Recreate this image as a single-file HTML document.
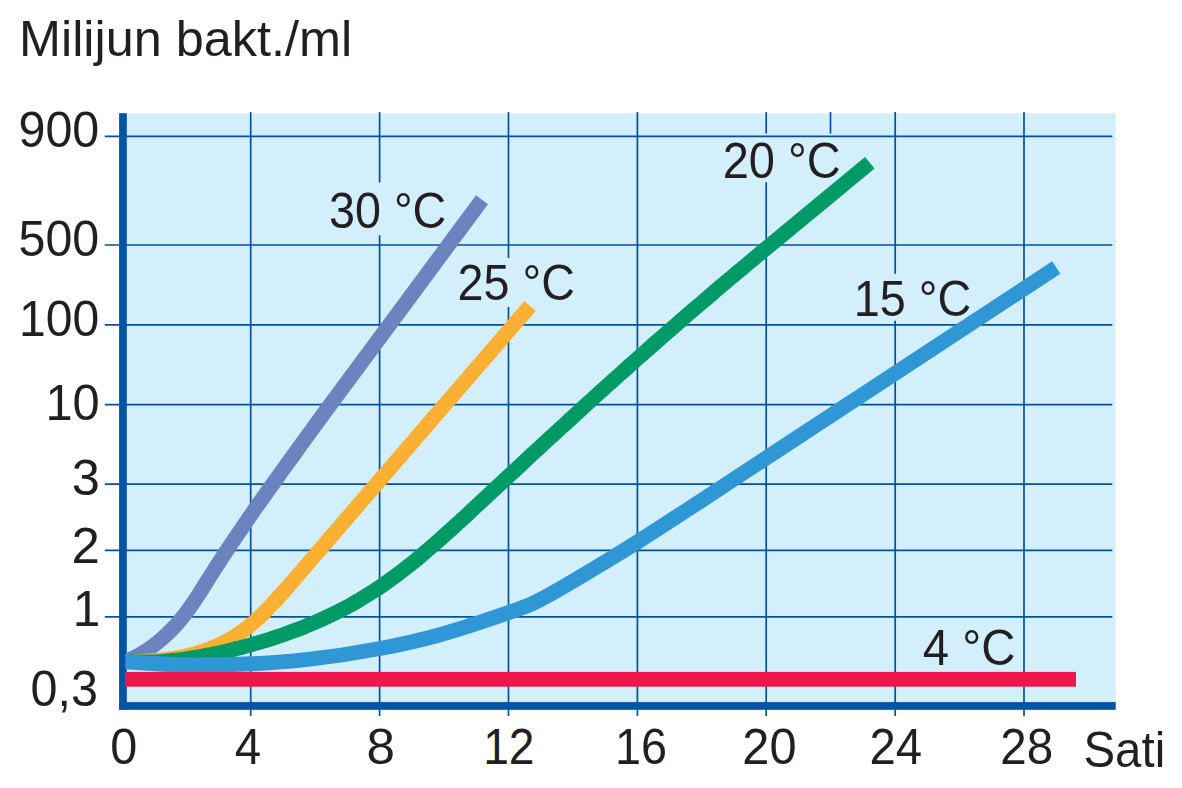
<!DOCTYPE html>
<html lang="hr"><head><meta charset="utf-8"><title>Milijun bakt./ml</title>
<style>html,body{margin:0;padding:0;background:#fff}body{width:1182px;height:788px;overflow:hidden}svg{display:block}text{font-family:"Liberation Sans",Arial,sans-serif;fill:#231f20}</style></head><body>
<svg width="1182" height="788" viewBox="0 0 1182 788">
<rect width="1182" height="788" fill="#fff"/>
<rect x="123" y="113.3" width="992.7" height="592" fill="#d4effc"/>
<g stroke="#00529f" stroke-width="1.7" fill="none">
<path d="M250.7,112 V716"/>
<path d="M379.6,112 V182.5 M379.6,235.3 V716"/>
<path d="M508.5,112 V257.9 M508.5,306.9 V716"/>
<path d="M637.4,112 V716"/>
<path d="M766.2,112 V133.6 M766.2,182.2 V716"/>
<path d="M895.2,112 V273.7 M895.2,320.8 V716"/>
<path d="M1024.0,112 V716"/>
<path d="M830.5,112 V133.6"/>
<path d="M104.8,136.4 H1112.3"/>
<path d="M104.8,245.0 H1112.3"/>
<path d="M104.8,324.8 H1112.3"/>
<path d="M104.8,404.7 H1112.3"/>
<path d="M104.8,484.1 H1112.3"/>
<path d="M104.8,550.4 H1112.3"/>
<path d="M104.8,616.9 H1112.3"/>
</g>
<rect x="119.1" y="113.2" width="7.7" height="596.6" fill="#0054a4"/>
<rect x="119.1" y="702.1" width="996.6" height="7.7" fill="#0054a4"/>
<clipPath id="cp"><rect x="125.6" y="100" width="1000" height="600"/></clipPath>
<g fill="none" stroke-width="15.0" stroke-linecap="butt" stroke-linejoin="round" clip-path="url(#cp)">
<path stroke="#6b84c0" d="M125.5,661.5 C127.4,660.6 133.3,658.1 137.1,656.1 C140.9,654.1 144.5,651.8 148.1,649.5 C151.6,647.1 155.1,644.5 158.4,641.8 C161.7,639.1 164.9,636.2 168.0,633.3 C171.1,630.3 174.1,627.2 176.9,624.0 C179.8,620.8 182.5,617.5 185.1,614.1 C187.7,610.8 190.1,607.3 192.5,603.8 C194.9,600.3 197.2,596.8 199.5,593.2 C201.8,589.7 204.0,586.1 206.2,582.5 C208.5,578.9 210.7,575.3 213.0,571.8 C215.3,568.2 217.6,564.6 219.9,561.1 C222.2,557.5 224.6,553.9 226.9,550.4 C229.3,546.9 231.6,543.3 234.0,539.8 C236.4,536.2 238.8,532.7 241.2,529.2 C243.6,525.7 246.0,522.2 248.4,518.6 C250.9,515.1 253.3,511.6 255.7,508.1 C258.2,504.6 260.6,501.1 263.1,497.6 C265.6,494.2 268.0,490.7 270.5,487.2 C273.0,483.7 275.5,480.2 277.9,476.8 C280.4,473.3 282.9,469.8 285.4,466.4 C287.9,462.9 290.4,459.4 292.9,456.0 C295.4,452.5 297.9,449.1 300.4,445.6 C302.9,442.2 305.4,438.7 307.9,435.3 C310.4,431.8 313.0,428.4 315.5,424.9 C318.0,421.5 320.5,418.0 323.0,414.6 C325.6,411.2 304.1,440.1 330.6,404.3 C357.1,368.5 456.8,233.8 482.0,199.7"/>
<path stroke="#fbb034" d="M125.5,661.5 C127.7,661.5 134.3,661.6 138.7,661.5 C143.1,661.3 147.5,661.1 151.9,660.8 C156.3,660.5 160.8,660.1 165.2,659.5 C169.6,659.0 174.0,658.3 178.3,657.5 C182.7,656.7 187.0,655.8 191.3,654.7 C195.6,653.6 199.8,652.3 204.0,650.9 C208.1,649.5 212.2,647.9 216.3,646.2 C220.3,644.4 224.2,642.5 228.1,640.4 C231.9,638.3 235.7,636.0 239.3,633.5 C242.9,631.0 246.4,628.4 249.8,625.6 C253.2,622.9 256.5,619.9 259.7,616.9 C262.9,613.9 265.9,610.7 268.9,607.6 C272.0,604.4 274.9,601.1 277.9,597.8 C280.8,594.6 283.8,591.3 286.7,588.0 C289.6,584.7 254.8,625.1 295.4,578.1 C335.9,531.1 490.9,351.3 530.0,306.0"/>
<path stroke="#009a66" d="M125.5,661.5 C127.5,661.6 133.6,661.9 137.7,662.0 C141.8,662.1 145.8,662.0 149.9,661.9 C154.0,661.8 158.1,661.6 162.2,661.4 C166.3,661.1 170.4,660.7 174.4,660.3 C178.5,659.9 182.6,659.4 186.7,658.8 C190.8,658.2 194.8,657.6 198.9,656.9 C203.0,656.2 207.0,655.4 211.1,654.6 C215.2,653.8 219.2,652.9 223.2,652.0 C227.3,651.1 231.3,650.1 235.3,649.0 C239.3,648.0 243.4,647.0 247.3,645.9 C251.3,644.7 255.3,643.6 259.3,642.4 C263.2,641.2 267.2,640.0 271.1,638.8 C275.0,637.5 279.0,636.2 282.8,634.8 C286.7,633.5 290.6,632.1 294.4,630.6 C298.3,629.2 302.1,627.7 305.9,626.2 C309.7,624.6 313.5,623.0 317.2,621.4 C321.0,619.8 324.7,618.1 328.4,616.3 C332.1,614.6 335.7,612.8 339.4,610.9 C343.0,609.1 346.6,607.2 350.2,605.2 C353.7,603.2 357.3,601.2 360.8,599.1 C364.3,597.0 367.7,594.9 371.2,592.7 C374.6,590.5 378.1,588.3 381.4,586.0 C384.8,583.7 388.2,581.3 391.5,578.9 C394.8,576.5 398.1,574.0 401.4,571.5 C404.7,569.0 407.9,566.4 411.2,563.8 C414.4,561.2 417.6,558.6 420.8,555.9 C423.9,553.3 427.1,550.6 430.2,547.9 C433.3,545.2 436.4,542.5 439.5,539.8 C442.6,537.0 445.7,534.3 448.7,531.5 C451.8,528.8 454.8,526.0 457.8,523.2 C460.9,520.5 463.9,517.7 466.9,514.9 C469.9,512.1 472.9,509.4 475.9,506.6 C478.9,503.8 481.9,501.0 484.9,498.2 C487.9,495.4 490.9,492.6 493.9,489.8 C496.9,487.0 499.9,484.2 502.9,481.4 C505.9,478.6 508.9,475.8 511.9,473.1 C515.0,470.3 518.0,467.5 521.0,464.7 C524.0,461.9 527.0,459.1 530.0,456.3 C533.0,453.5 536.1,450.7 539.1,447.9 C542.1,445.1 545.1,442.4 548.1,439.6 C551.2,436.8 554.2,434.0 557.2,431.2 C560.2,428.4 563.3,425.7 566.3,422.9 C569.3,420.1 572.4,417.3 575.4,414.6 C578.4,411.8 581.5,409.0 584.5,406.2 C587.6,403.5 590.6,400.7 593.6,398.0 C596.7,395.2 599.7,392.4 602.8,389.7 C605.8,386.9 608.9,384.2 612.0,381.4 C615.0,378.7 618.1,375.9 621.1,373.2 C624.2,370.5 627.2,367.7 630.3,365.0 C633.4,362.3 636.5,359.5 639.5,356.8 C642.6,354.1 645.7,351.4 648.8,348.6 C651.8,345.9 654.9,343.2 658.0,340.5 C661.1,337.8 664.2,335.1 667.3,332.4 C670.4,329.7 673.5,327.0 676.6,324.3 C679.7,321.6 682.8,318.9 685.9,316.2 C689.0,313.6 692.1,310.9 695.2,308.2 C698.3,305.5 701.4,302.8 704.6,300.2 C707.7,297.5 710.8,294.9 713.9,292.2 C717.1,289.5 720.2,286.9 723.3,284.2 C726.5,281.6 729.6,278.9 732.8,276.3 C735.9,273.6 739.1,271.0 742.2,268.4 C745.4,265.7 748.5,263.1 751.7,260.5 C754.8,257.8 758.0,255.2 761.1,252.6 C764.3,250.0 752.5,259.7 770.6,244.7 C788.7,229.7 853.3,176.5 869.8,162.8"/>
<path stroke="#3097d6" d="M125.5,661.5 C149.00,663.62 172.50,665.00 196,665 C214.30,665.00 232.60,664.71 250.9,663.8 C269.30,662.88 287.70,661.62 306.1,659.6 C330.73,656.89 355.37,653.18 380,648.5 C400.00,644.70 420.00,640.30 440,634.7 C462.83,628.31 485.67,620.59 508.5,612.6 C515.93,610.00 523.37,607.50 530.8,604.3 C539.23,600.67 547.67,595.85 556.1,591.0 C573.03,581.26 589.97,571.04 606.9,560.8 C617.13,554.61 627.37,548.30 637.6,541.8 C659.17,528.11 680.73,514.06 702.3,499.9 L1056.3,267.5"/>
</g>
<rect x="125" y="671.9" width="951" height="14.8" fill="#ec174b"/>
<text transform="translate(18.95,56.1) scale(1.0124,1)" font-size="49.8">Milijun bakt./ml</text>
<text transform="translate(18.44,147.3) scale(0.9785,1)" font-size="49.5">900</text>
<text transform="translate(18.55,256.2) scale(0.9772,1)" font-size="49.5">500</text>
<text transform="translate(19.01,335.6) scale(0.9714,1)" font-size="49.5">100</text>
<text transform="translate(45.46,419.6) scale(0.9857,1)" font-size="49.5">10</text>
<text transform="translate(71.76,494.8) scale(1.0217,1)" font-size="49.5">3</text>
<text transform="translate(71.44,562.6) scale(1.0304,1)" font-size="49.5">2</text>
<text transform="translate(72.80,625.9) scale(1.0000,1)" font-size="49.5">1</text>
<text transform="translate(30.54,706.0) scale(0.9800,1)" font-size="49.5">0,3</text>
<text transform="translate(110.33,764.3) scale(0.9833,1)" font-size="49.5">0</text>
<text transform="translate(234.84,764.3) scale(0.9600,1)" font-size="49.5">4</text>
<text transform="translate(366.53,764.3) scale(1.0348,1)" font-size="49.5">8</text>
<text transform="translate(483.17,764.3) scale(0.9327,1)" font-size="49.5">12</text>
<text transform="translate(614.92,764.3) scale(0.9449,1)" font-size="49.5">16</text>
<text transform="translate(742.33,764.3) scale(0.9843,1)" font-size="49.5">20</text>
<text transform="translate(869.39,764.3) scale(0.9558,1)" font-size="49.5">24</text>
<text transform="translate(1000.28,764.3) scale(0.9608,1)" font-size="49.5">28</text>
<text transform="translate(1083.48,766.9) scale(0.9587,1)" font-size="49.5">Sati</text>
<text transform="translate(329.01,228.4) scale(0.9433,1)" font-size="49.5">30 °C</text>
<text transform="translate(457.61,300.0) scale(0.9433,1)" font-size="49.5">25 °C</text>
<text transform="translate(722.70,177.6) scale(0.9500,1)" font-size="49.5">20 °C</text>
<text transform="translate(853.82,315.7) scale(0.9458,1)" font-size="49.5">15 °C</text>
<text transform="translate(922.74,664.6) scale(0.9574,1)" font-size="49.5">4 °C</text>
</svg></body></html>
